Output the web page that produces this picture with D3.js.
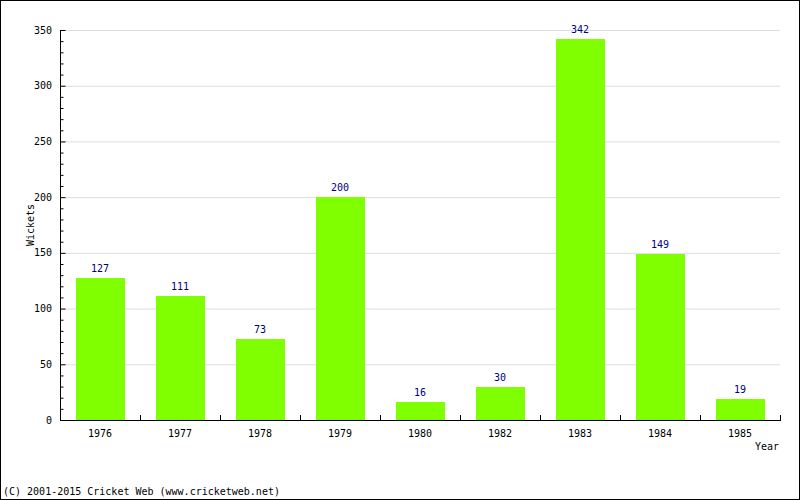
<!DOCTYPE html>
<html>
<head>
<meta charset="utf-8">
<script src="https://cdn.jsdelivr.net/npm/d3@7"></script>
<style>
  body { margin: 0; background: #fff; }
  svg { display: block; }
  text { font-family: "DejaVu Sans Mono", monospace; font-size: 10px; }
</style>
</head>
<body>
<svg id="chart" width="800" height="500"></svg>
<script>
const years = ["1976", "1977", "1978", "1979", "1980", "1982", "1983", "1984", "1985"];
const wickets = [127, 111, 73, 200, 16, 30, 342, 149, 19];
const yTicks = [0, 50, 100, 150, 200, 250, 300, 350];

const svg = d3.select("#chart");
const plot = { left: 60, right: 780, top: 30, bottom: 420 };

svg.append("rect")
  .attr("x", 0.5).attr("y", 0.5)
  .attr("width", 799).attr("height", 499)
  .attr("fill", "#fff").attr("stroke", "#000");

const band = d3.scaleBand().domain(years).range([plot.left, plot.right]);
const y = d3.scaleLinear().domain([0, 350]).range([plot.bottom, plot.top]);

// grid lines
svg.append("g")
  .selectAll("line")
  .data(yTicks.filter((t) => t > 0))
  .join("line")
  .attr("x1", plot.left).attr("x2", plot.right)
  .attr("y1", (t) => y(t) + 0.5).attr("y2", (t) => y(t) + 0.5)
  .attr("stroke", "#dddddd");

// bars
svg.append("g")
  .selectAll("rect")
  .data(wickets)
  .join("rect")
  .attr("x", (d, i) => Math.round(band(years[i]) + 16))
  .attr("width", 49)
  .attr("y", (d) => Math.round(y(d)))
  .attr("height", (d) => plot.bottom - Math.round(y(d)))
  .attr("fill", "#80ff00");

// value labels
svg.append("g")
  .selectAll("text")
  .data(wickets)
  .join("text")
  .attr("x", (d, i) => band(years[i]) + band.bandwidth() / 2)
  .attr("y", (d) => y(d) - 6)
  .attr("text-anchor", "middle")
  .attr("fill", "#000080")
  .text((d) => d);

// y axis
const yAxis = d3.axisRight(y).tickValues(d3.range(0, 351, 10)).tickSize(3).tickFormat("");
const yg = svg.append("g").attr("transform", `translate(${plot.left + 0.5},0)`).call(yAxis);
yg.select(".domain").remove();
yg.selectAll(".tick line").attr("stroke", "#000").attr("x2", (d) => (d % 50 === 0 ? 5 : 3));
svg.append("line")
  .attr("x1", plot.left + 0.5).attr("x2", plot.left + 0.5)
  .attr("y1", plot.top).attr("y2", plot.bottom + 1)
  .attr("stroke", "#000");

svg.append("g")
  .selectAll("text")
  .data(yTicks)
  .join("text")
  .attr("x", plot.left - 8)
  .attr("y", (t) => y(t))
  .attr("dy", "0.35em")
  .attr("text-anchor", "end")
  .attr("fill", "#000")
  .text((t) => t);

// x axis
svg.append("line")
  .attr("x1", plot.left).attr("x2", plot.right + 1)
  .attr("y1", plot.bottom + 0.5).attr("y2", plot.bottom + 0.5)
  .attr("stroke", "#000");

svg.append("g")
  .selectAll("line")
  .data(years.concat(["end"]))
  .join("line")
  .attr("x1", (d, i) => plot.left + i * band.bandwidth() + 0.5)
  .attr("x2", (d, i) => plot.left + i * band.bandwidth() + 0.5)
  .attr("y1", plot.bottom - 5).attr("y2", plot.bottom)
  .attr("stroke", "#000");

svg.append("g")
  .selectAll("text")
  .data(years)
  .join("text")
  .attr("x", (d) => band(d) + band.bandwidth() / 2)
  .attr("y", plot.bottom + 17)
  .attr("text-anchor", "middle")
  .attr("fill", "#000")
  .text((d) => d);

svg.append("text")
  .attr("x", 779).attr("y", 450)
  .attr("text-anchor", "end")
  .text("Year");

svg.append("text")
  .attr("transform", `translate(34,225) rotate(-90)`)
  .attr("text-anchor", "middle")
  .text("Wickets");

svg.append("text")
  .attr("x", 3).attr("y", 495)
  .text("(C) 2001-2015 Cricket Web (www.cricketweb.net)");
</script>
</body>
</html>
